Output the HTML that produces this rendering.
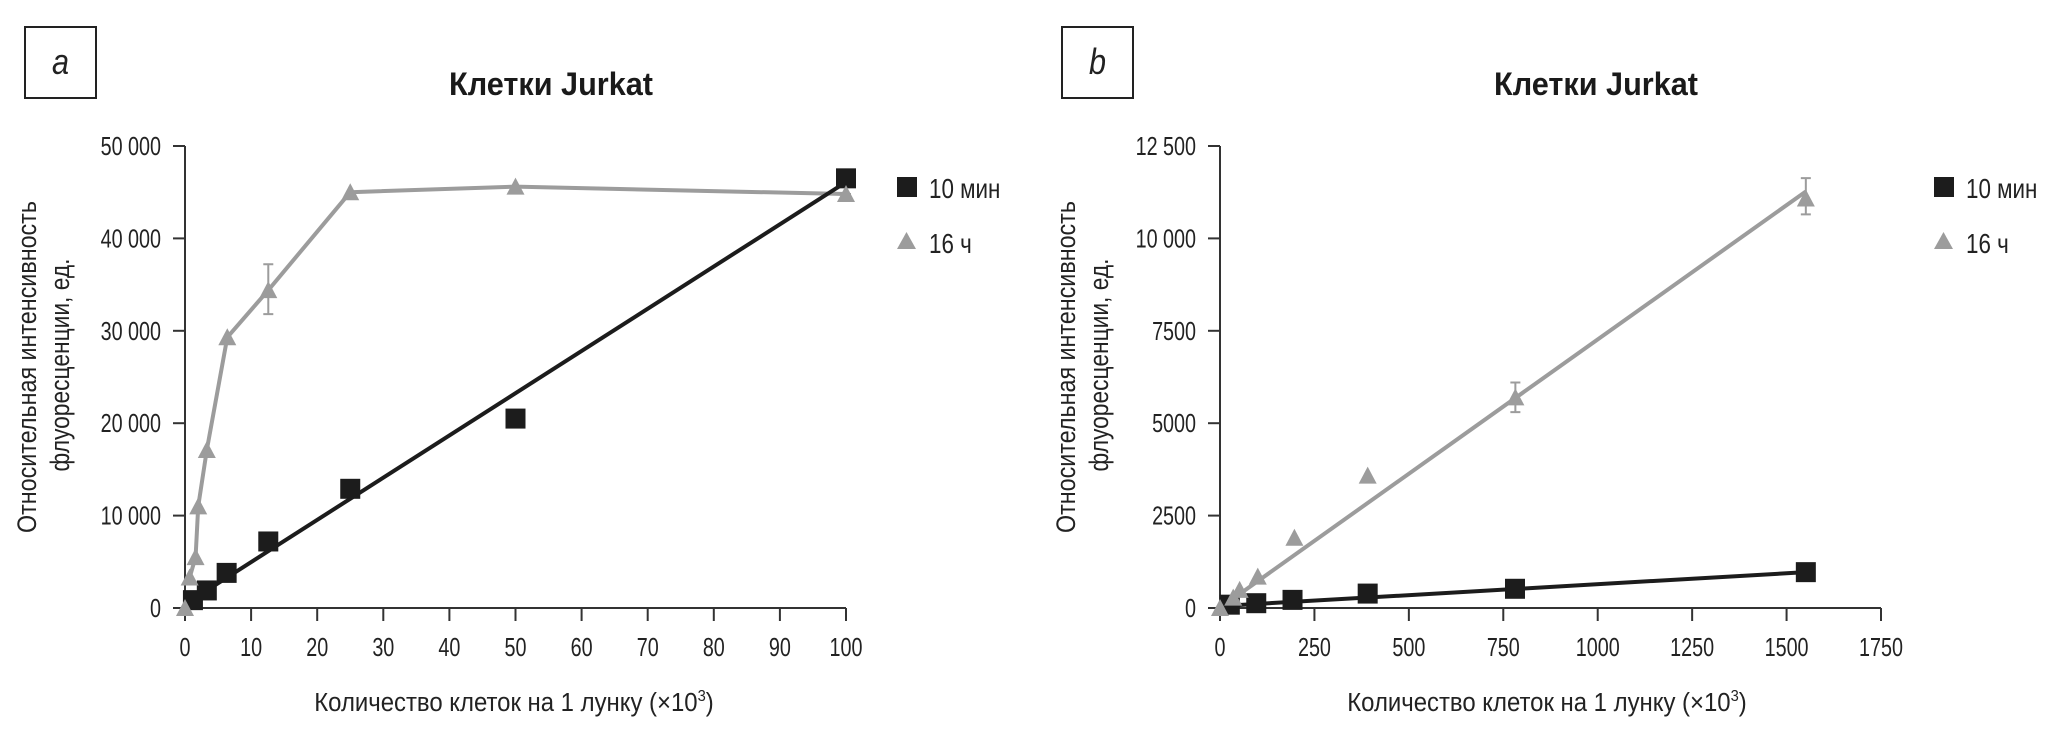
<!DOCTYPE html>
<html><head><meta charset="utf-8"><style>
html,body{margin:0;padding:0;background:#fff;}
svg{display:block;font-family:"Liberation Sans Narrow","Liberation Sans",sans-serif;}
</style></head><body>
<svg id="c" width="2058" height="746" viewBox="0 0 2058 746" xmlns="http://www.w3.org/2000/svg"></svg>
<script>
// Panel a data
const aSqX = [1.2, 3.3, 6.3, 12.6, 25, 50, 100];
const aSqY = [850, 1900, 3800, 7200, 12900, 20500, 46500];
const aTriX = [0, 0.7, 1.6, 2.0, 3.3, 6.4, 12.6, 25, 50, 100];
const aTriY = [0, 3300, 5500, 11000, 17100, 29300, 34400, 45000, 45600, 44800];
const aFit = [1.5, 1080, 100, 46100];
const aErrX = [12.6, 100];
const aErrLo = [31800, 44800];
const aErrHi = [37200, 46800];
const aXTicks = [0,10,20,30,40,50,60,70,80,90,100];
const aYTicks = [0,10000,20000,30000,40000,50000];
const aYLabels = ["0","10 000","20 000","30 000","40 000","50 000"];
// Panel b data
const bSqX = [26, 96, 192, 391, 781, 1551];
const bSqY = [90, 130, 220, 390, 520, 970];
const bTriX = [0, 35, 52, 100, 197, 391, 782, 1551];
const bTriY = [0, 280, 490, 850, 1900, 3580, 5700, 11080];
const bFitBlack = [0, 52, 1551, 970];
const bFitGray = [0, 0, 1551, 11270];
const bErrX = [782, 1551];
const bErrLo = [5300, 10650];
const bErrHi = [6100, 11630];
const bXTicks = [0,250,500,750,1000,1250,1500,1750];
const bYTicks = [0,2500,5000,7500,10000,12500];
const bYLabels = ["0","2500","5000","7500","10 000","12 500"];

const NS="http://www.w3.org/2000/svg";
const svg=document.getElementById('c');
function el(tag,attrs,parent,text){const e=document.createElementNS(NS,tag);for(const k in attrs)e.setAttribute(k,attrs[k]);if(text!==undefined)e.textContent=text;(parent||svg).appendChild(e);return e;}
const BLK="#1c1c1c", GR="#9c9c9c", SX=0.76;

function panel(o){
  const g=el('g',{});
  
  
  const X=v=>o.x0+(v-o.xmin)/(o.xmax-o.xmin)*(o.x1-o.x0);
  const Y=v=>o.y0-(v/o.ymax)*(o.y0-o.y1);
  const bx=el('rect',{x:o.boxX,y:27,width:71,height:71,fill:'none',stroke:'#222','stroke-width':2},g);
  
  
  const bl=el('text',{x:0,y:0,transform:`translate(${o.boxX+35.5},74) scale(0.85,1)`,'text-anchor':'middle','font-size':36,'font-style':'italic',fill:'#222'},g,o.id);
  
  
  const t=el('text',{x:o.titleX,y:95,'text-anchor':'middle','font-size':32,'font-weight':'bold',fill:'#1a1a1a',textLength:204,lengthAdjust:'spacingAndGlyphs'},g,'Клетки Jurkat');
  
  
  const ya=el('line',{x1:o.x0,y1:o.y1,x2:o.x0,y2:o.y0+1,stroke:'#333','stroke-width':2},g);
  
  
  const xa=el('line',{x1:o.x0-1,y1:o.y0,x2:o.x1,y2:o.y0,stroke:'#333','stroke-width':2},g);
  
  
  o.xt.forEach(v=>{
    const l=el('line',{x1:X(v),y1:o.y0,x2:X(v),y2:o.y0+13,stroke:'#333','stroke-width':2},g);
    
    
    const tx=el('text',{x:0,y:0,transform:`translate(${X(v)},656) scale(${SX},1)`,'text-anchor':'middle','font-size':26,fill:'#222'},g,String(v));
    
    
  });
  o.yt.forEach((v,i)=>{
    const l=el('line',{x1:o.x0-12,y1:Y(v),x2:o.x0,y2:Y(v),stroke:'#333','stroke-width':2},g);
    
    
    const tx=el('text',{x:0,y:0,transform:`translate(${o.x0-24},${Y(v)+9}) scale(${SX},1)`,'text-anchor':'end','font-size':26,fill:'#222'},g,o.yl[i]);
    
    
  });
  const xt=el('text',{x:0,y:0,transform:`translate(${o.xTitleX},711) scale(0.92,1)`,'text-anchor':'middle','font-size':26,fill:'#222'},g);
  
  
  el('tspan',{},xt,'Количество клеток на 1 лунку (×10');
  el('tspan',{dy:-10,'font-size':16},xt,'3');
  el('tspan',{dy:10},xt,')');
  const y1=el('text',{x:0,y:0,'text-anchor':'middle','font-size':27,fill:'#222',textLength:332,lengthAdjust:'spacingAndGlyphs',transform:`translate(${o.yt1x+9},367) rotate(-90)`},g,'Относительная интенсивность');
  
  
  const y2=el('text',{x:0,y:0,'text-anchor':'middle','font-size':27,fill:'#222',textLength:213,lengthAdjust:'spacingAndGlyphs',transform:`translate(${o.yt1x+42},365) rotate(-90)`},g,'флуоресценции, ед.');
  
  
  let gl;
  if(o.grayPoly){
    gl=el('polyline',{points:o.triX.slice(1).map((v,i)=>X(v)+','+Y(o.triY[i+1])).join(' '),fill:'none',stroke:GR,'stroke-width':4,'stroke-linejoin':'round'},g);
  } else {
    gl=el('line',{x1:X(o.grayFit[0]),y1:Y(o.grayFit[1]),x2:X(o.grayFit[2]),y2:Y(o.grayFit[3]),stroke:GR,'stroke-width':4},g);
  }
  
  
  const bl2=el('line',{x1:X(o.blackFit[0]),y1:Y(o.blackFit[1]),x2:X(o.blackFit[2]),y2:Y(o.blackFit[3]),stroke:BLK,'stroke-width':4},g);
  
  
  o.errX.forEach((v,i)=>{
    const e=el('path',{d:`M${X(v)-5},${Y(o.errHi[i])}h10M${X(v)},${Y(o.errHi[i])}V${Y(o.errLo[i])}M${X(v)-5},${Y(o.errLo[i])}h10`,stroke:GR,'stroke-width':2,fill:'none'},g);
    
    
  });
  o.sqX.forEach((v,i)=>{
    const r=el('rect',{x:X(v)-10,y:Y(o.sqY[i])-10,width:20,height:20,fill:BLK},g);
    
    
  });
  o.triX.forEach((v,i)=>{
    const cx=X(v),cy=Y(o.triY[i]);
    const p=el('polygon',{points:`${cx-9},${cy+8} ${cx+9},${cy+8} ${cx},${cy-9}`,fill:GR},g);
    
    
  });
  const ls=el('rect',{x:o.legX,y:177,width:20,height:20,fill:BLK},g);
  
  
  const lt1=el('text',{x:0,y:0,transform:`translate(${o.legX+32},198) scale(0.8,1)`,'font-size':28,fill:'#222'},g,'10 мин');
  
  
  const lp=el('polygon',{points:`${o.legX},249 ${o.legX+19},249 ${o.legX+9.5},232`,fill:GR},g);
  
  
  const lt2=el('text',{x:0,y:0,transform:`translate(${o.legX+32},253) scale(0.8,1)`,'font-size':28,fill:'#222'},g,'16 ч');
  
  
}

panel({id:'a',x0:185,x1:846,xmin:0,xmax:100,y0:608,y1:146,ymax:50000,
  boxX:25,titleX:551,xTitleX:514,yt1x:27,legX:897,
  sqX:aSqX,sqY:aSqY,triX:aTriX,triY:aTriY,grayPoly:true,blackFit:aFit,
  errX:aErrX,errLo:aErrLo,errHi:aErrHi,xt:aXTicks,yt:aYTicks,yl:aYLabels});
panel({id:'b',x0:1220,x1:1881,xmin:0,xmax:1750,y0:608,y1:146,ymax:12500,
  boxX:1062,titleX:1596,xTitleX:1547,yt1x:1066,legX:1934,
  sqX:bSqX,sqY:bSqY,triX:bTriX,triY:bTriY,grayPoly:false,grayFit:bFitGray,blackFit:bFitBlack,
  errX:bErrX,errLo:bErrLo,errHi:bErrHi,xt:bXTicks,yt:bYTicks,yl:bYLabels});
</script>
</body></html>
